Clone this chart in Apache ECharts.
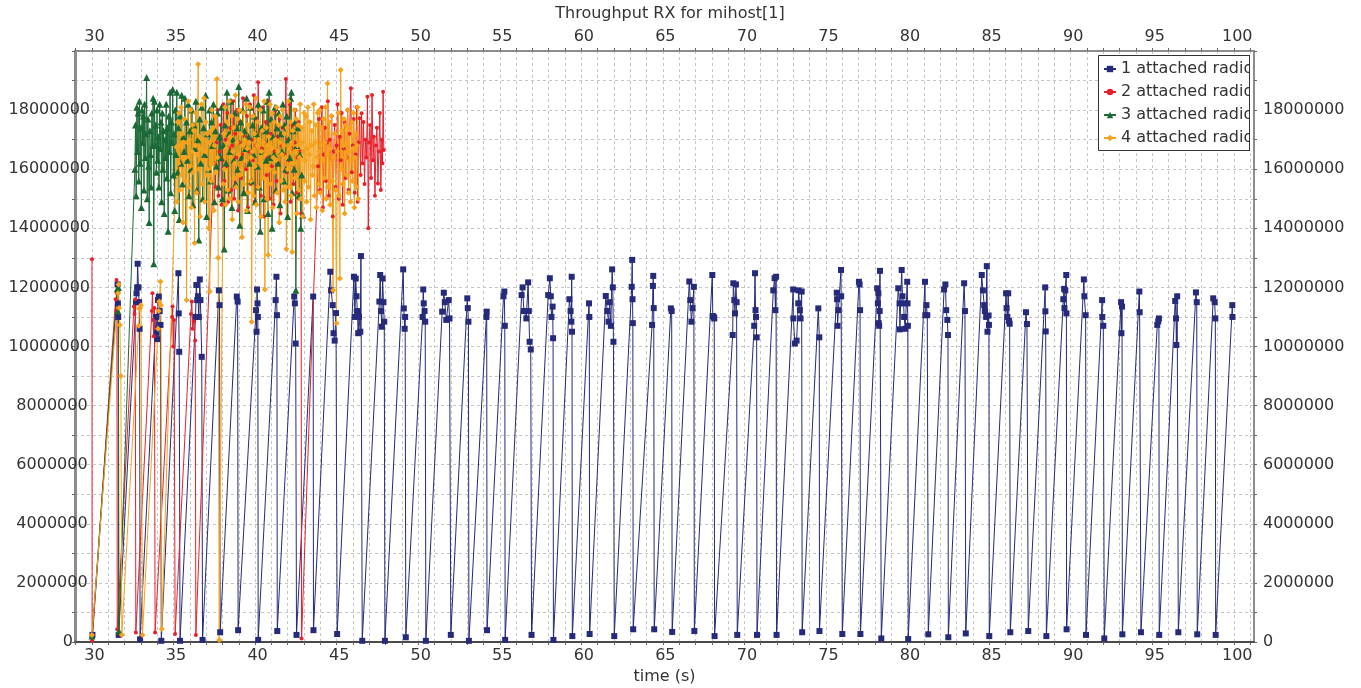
<!DOCTYPE html>
<html>
<head>
<meta charset="utf-8">
<script src="https://cdn.jsdelivr.net/npm/echarts@6/dist/echarts.min.js"></script>
<style>
html,body{margin:0;padding:0;background:#ffffff;}
#chart{width:1361px;height:688px;}
</style>
</head>
<body>
<div id="chart"></div>
<script>
// Throughput RX for mihost[1]: received throughput over time, one line per number of attached radios
const titleText = 'Throughput RX for mihost[1]';
const xName = 'time (s)';
const seriesNames = ['1 attached radio', '2 attached radio', '3 attached radio', '4 attached radio'];

const xLabelValues = [30, 35, 40, 45, 50, 55, 60, 65, 70, 75, 80, 85, 90, 95, 100];
const xTickValues = [29, 30, 31, 32, 33, 34, 35, 36, 37, 38, 39, 40, 41, 42, 43, 44, 45, 46, 47, 48, 49,
  50, 51, 52, 53, 54, 55, 56, 57, 58, 59, 60, 61, 62, 63, 64, 65, 66, 67, 68, 69, 70, 71, 72, 73, 74,
  75, 76, 77, 78, 79, 80, 81, 82, 83, 84, 85, 86, 87, 88, 89, 90, 91, 92, 93, 94, 95, 96, 97, 98, 99, 100, 101];
const yLabelValues = [0, 2000000, 4000000, 6000000, 8000000, 10000000, 12000000, 14000000, 16000000, 18000000];

// [time (s), throughput]
const radio1 = [
  [30.03,0.24e6],[31.57,12.1e6],[31.59,11.46e6],[31.61,11.0e6],[31.64,0.24e6],
  [32.70,11.5e6],[32.73,11.8e6],[32.77,12.0e6],[32.80,12.8e6],[32.85,12.0e6],[32.89,11.5e6],[32.92,10.6e6],[32.95,0.09e6],
  [33.93,11.0e6],[33.97,10.46e6],[34.00,10.25e6],[34.05,11.57e6],[34.10,11.69e6],[34.15,11.2e6],[34.20,10.73e6],[34.25,0.04e6],
  [35.30,12.48e6],[35.32,11.12e6],[35.35,9.82e6],[35.40,0.04e6],
  [36.35,11.0e6],[36.40,12.08e6],[36.45,11.57e6],[36.50,11.7e6],[36.55,11.0e6],[36.61,12.27e6],[36.65,11.57e6],[36.73,9.65e6],[36.78,0.07e6],
  [37.78,11.9e6],[37.82,11.4e6],[37.86,0.33e6],
  [38.88,11.69e6],[38.93,11.52e6],[38.96,0.4e6],
  [40.06,11.23e6],[40.09,10.5e6],[40.12,11.93e6],[40.15,11.46e6],[40.17,11.0e6],[40.19,0.07e6],
  [41.26,11.57e6],[41.31,12.36e6],[41.34,11.06e6],[41.36,0.37e6],
  [42.40,11.69e6],[42.44,11.46e6],[42.49,10.1e6],[42.54,0.24e6],
  [43.56,11.69e6],[43.58,0.4e6],
  [44.61,12.53e6],[44.66,11.9e6],[44.76,11.4e6],[44.81,10.45e6],[44.88,10.2e6],[44.96,11.13e6],[45.03,0.27e6],
  [46.06,12.36e6],[46.12,11.0e6],[46.17,12.3e6],[46.22,11.7e6],[46.27,11.2e6],[46.32,10.45e6],[46.37,11.0e6],[46.45,10.5e6],[46.49,13.06e6],[46.57,0.04e6],
  [47.62,11.52e6],[47.67,12.42e6],[47.72,11.2e6],[47.77,10.67e6],[47.82,12.3e6],[47.87,11.5e6],[47.92,10.84e6],[47.96,0.04e6],
  [49.08,12.61e6],[49.12,11.29e6],[49.17,10.6e6],[49.20,11.0e6],[49.24,0.16e6],
  [50.27,11.0e6],[50.31,11.93e6],[50.34,11.46e6],[50.39,11.2e6],[50.43,10.84e6],[50.47,0.04e6],
  [51.47,11.18e6],[51.57,11.82e6],[51.63,11.5e6],[51.72,10.9e6],[51.87,11.57e6],[51.92,10.95e6],[52.00,0.24e6],
  [53.01,11.63e6],[53.04,11.3e6],[53.08,10.84e6],[53.11,0.04e6],
  [54.18,11.0e6],[54.20,11.18e6],[54.22,0.4e6],
  [55.23,11.7e6],[55.28,11.86e6],[55.31,10.7e6],[55.33,0.07e6],
  [56.34,11.74e6],[56.40,12.0e6],[56.48,11.2e6],[56.63,10.95e6],[56.74,12.17e6],[56.78,11.2e6],[56.83,10.16e6],[56.90,9.9e6],[56.95,0.24e6],
  [57.97,11.74e6],[58.07,12.31e6],[58.13,11.7e6],[58.17,11.0e6],[58.24,11.35e6],[58.27,10.28e6],[58.29,0.07e6],
  [59.27,11.6e6],[59.34,11.2e6],[59.39,10.84e6],[59.41,12.36e6],[59.43,10.5e6],[59.45,0.2e6],
  [60.47,11.46e6],[60.49,11.0e6],[60.51,0.27e6],
  [61.50,11.71e6],[61.59,11.2e6],[61.67,10.84e6],[61.74,11.5e6],[61.81,10.7e6],[61.89,12.61e6],[61.93,12.0e6],[61.97,10.16e6],[62.02,0.2e6],
  [63.09,12.02e6],[63.12,12.93e6],[63.14,11.6e6],[63.16,10.79e6],[63.18,0.43e6],
  [64.34,10.73e6],[64.39,12.05e6],[64.41,12.39e6],[64.44,11.3e6],[64.47,0.43e6],
  [65.49,11.29e6],[65.54,11.2e6],[65.57,0.34e6],
  [66.62,12.2e6],[66.68,11.57e6],[66.75,10.84e6],[66.82,11.3e6],[66.90,12.02e6],[66.93,0.37e6],
  [68.03,12.42e6],[68.06,11.03e6],[68.12,11.0e6],[68.15,10.95e6],[68.17,0.2e6],
  [69.28,10.39e6],[69.32,12.14e6],[69.38,11.57e6],[69.42,11.12e6],[69.48,12.1e6],[69.52,11.5e6],[69.56,0.24e6],
  [70.60,10.7e6],[70.65,12.48e6],[70.68,11.23e6],[70.71,11.0e6],[70.75,10.31e6],[70.77,0.24e6],
  [71.77,11.9e6],[71.85,12.31e6],[71.90,11.23e6],[71.94,12.36e6],[71.97,0.24e6],
  [72.99,11.93e6],[73.00,10.95e6],[73.09,10.1e6],[73.20,10.2e6],[73.30,11.46e6],[73.32,11.9e6],[73.40,11.23e6],[73.44,10.95e6],[73.51,11.86e6],[73.54,0.33e6],
  [74.53,11.29e6],[74.59,10.31e6],[74.60,0.37e6],
  [75.66,11.82e6],[75.68,11.6e6],[75.71,10.7e6],[75.76,11.23e6],[75.92,12.59e6],[75.93,11.7e6],[76.00,0.27e6],
  [77.02,12.19e6],[77.06,12.1e6],[77.09,11.23e6],[77.11,0.27e6],
  [78.14,11.97e6],[78.18,11.46e6],[78.21,11.8e6],[78.23,10.79e6],[78.26,10.7e6],[78.29,11.2e6],[78.31,12.56e6],[78.39,0.12e6],
  [79.43,11.97e6],[79.51,11.46e6],[79.53,10.58e6],[79.64,12.59e6],[79.69,11.7e6],[79.76,11.46e6],[79.79,11.0e6],[79.86,10.6e6],[79.98,12.19e6],[80.00,11.46e6],[80.02,10.7e6],[80.04,0.1e6],
  [81.07,12.19e6],[81.09,11.06e6],[81.16,11.4e6],[81.21,11.06e6],[81.27,0.26e6],
  [82.24,11.93e6],[82.32,12.1e6],[82.37,11.23e6],[82.44,10.9e6],[82.48,10.39e6],[82.50,0.16e6],
  [83.47,12.14e6],[83.52,11.2e6],[83.57,0.29e6],
  [84.55,12.42e6],[84.62,11.9e6],[84.70,11.4e6],[84.74,11.2e6],[84.82,11.0e6],[84.86,12.72e6],[84.90,10.5e6],[84.97,11.05e6],[84.99,10.73e6],[85.01,0.2e6],
  [86.04,11.8e6],[86.07,11.3e6],[86.12,11.0e6],[86.17,11.8e6],[86.22,10.87e6],[86.26,10.77e6],[86.30,0.33e6],
  [87.26,11.16e6],[87.32,10.76e6],[87.40,0.37e6],
  [88.44,12.0e6],[88.45,11.19e6],[88.47,10.51e6],[88.51,0.2e6],
  [89.55,11.6e6],[89.60,11.95e6],[89.62,11.3e6],[89.67,11.9e6],[89.73,12.42e6],[89.74,11.12e6],[89.75,0.43e6],
  [90.81,12.27e6],[90.84,11.7e6],[90.92,11.06e6],[90.94,0.24e6],
  [91.93,11.57e6],[91.94,11.0e6],[92.00,10.7e6],[92.06,0.12e6],
  [93.09,11.5e6],[93.11,10.45e6],[93.15,11.35e6],[93.17,0.26e6],
  [94.21,11.86e6],[94.23,11.16e6],[94.31,0.33e6],
  [95.31,10.73e6],[95.37,10.85e6],[95.41,10.95e6],[95.43,0.24e6],
  [96.41,11.54e6],[96.46,10.95e6],[96.48,10.05e6],[96.53,11.7e6],[96.60,0.33e6],
  [97.68,11.83e6],[97.73,11.5e6],[97.76,0.26e6],
  [98.74,11.63e6],[98.83,11.5e6],[98.87,10.95e6],[98.89,0.24e6],
  [99.91,11.4e6],[99.92,11.0e6]
];

const radio2 = [
  [30.00,12.95e6],[30.01,0.05e6],[31.45,11.6e6],[31.48,11.2e6],[31.51,12.25e6],[31.53,11.8e6],[31.55,0.43e6],
  [32.57,11.35e6],[32.61,11.1e6],[32.65,11.6e6],[32.69,0.32e6],
  [33.67,11.2e6],[33.71,11.8e6],[33.75,10.9e6],[33.79,10.35e6],[33.83,11.3e6],[33.87,0.32e6],
  [34.91,11.0e6],[34.94,11.35e6],[34.98,10.0e6],[35.03,10.9e6],[35.10,0.27e6],
  [36.07,11.1e6],[36.12,11.52e6],[36.17,10.6e6],[36.25,10.85e6],[36.33,10.2e6],[36.37,0.24e6],
  [37.46,16.2e6],[37.52,17.8e6],[37.58,15.4e6],[37.64,16.9e6],[37.70,18.0e6],[37.76,15.1e6],[37.82,16.6e6],[37.88,17.5e6],
  [37.94,14.8e6],[38.00,16.3e6],[38.06,18.2e6],[38.12,15.6e6],[38.18,17.0e6],[38.24,16.1e6],[38.30,17.9e6],[38.36,14.9e6],
  [38.42,16.7e6],[38.48,17.4e6],[38.54,15.3e6],[38.60,16.8e6],[38.66,18.3e6],[38.72,15.0e6],[38.78,17.2e6],[38.84,16.4e6],
  [38.90,18.0e6],[38.96,14.6e6],[39.02,16.9e6],[39.08,17.6e6],[39.14,15.7e6],[39.20,16.5e6],[39.26,18.4e6],[39.32,15.2e6],
  [39.38,17.1e6],[39.44,16.0e6],[39.50,17.8e6],[39.56,14.7e6],[39.62,16.6e6],[39.68,18.2e6],[39.74,15.5e6],[39.80,17.0e6],
  [39.86,16.3e6],[39.92,18.5e6],[39.98,14.9e6],[40.04,16.8e6],[40.10,17.7e6],[40.16,15.4e6],[40.19,18.94e6],[40.24,16.2e6],
  [40.30,17.3e6],[40.36,15.1e6],[40.42,16.7e6],[40.48,18.1e6],[40.54,14.4e6],[40.60,16.9e6],[40.66,17.6e6],[40.72,15.8e6],
  [40.78,16.4e6],[40.84,18.3e6],[40.90,15.0e6],[40.96,17.2e6],[41.02,16.1e6],[41.08,17.9e6],[41.14,14.8e6],[41.20,16.6e6],
  [41.26,18.0e6],[41.32,15.6e6],[41.38,17.1e6],[41.44,16.2e6],[41.50,17.7e6],[41.56,14.5e6],[41.62,16.8e6],[41.68,17.4e6],
  [41.74,15.3e6],[41.80,16.5e6],[41.89,19.05e6],[41.94,15.9e6],[42.00,17.0e6],[42.06,16.3e6],[42.12,18.2e6],[42.18,14.9e6],
  [42.24,16.7e6],[42.30,17.5e6],[42.36,15.5e6],[42.42,16.9e6],[42.48,18.0e6],[42.54,15.2e6],[42.60,16.4e6],[42.66,17.6e6],
  [42.72,15.0e6],[42.78,16.6e6],[42.82,14.5e6],[42.85,0.12e6],
  [43.86,16.1e6],[43.92,17.7e6],[43.98,15.3e6],[44.04,16.8e6],[44.10,18.1e6],[44.16,14.7e6],[44.22,16.5e6],[44.28,17.4e6],
  [44.34,15.6e6],[44.40,16.9e6],[44.46,18.3e6],[44.52,15.1e6],[44.58,17.0e6],[44.64,16.2e6],[44.70,17.8e6],[44.76,14.4e6],
  [44.82,16.6e6],[44.88,17.5e6],[44.94,15.4e6],[45.00,16.8e6],[45.06,18.2e6],[45.12,15.0e6],[45.19,17.1e6],[45.25,16.3e6],
  [45.31,17.9e6],[45.37,14.8e6],[45.43,16.7e6],[45.49,17.6e6],[45.55,15.7e6],[45.61,16.4e6],[45.67,18.0e6],[45.73,15.3e6],
  [45.79,17.2e6],[45.87,18.74e6],[45.93,15.9e6],[45.99,16.8e6],[46.05,17.7e6],[46.11,15.2e6],[46.17,16.5e6],[46.23,18.1e6],
  [46.29,14.9e6],[46.35,16.9e6],[46.41,17.72e6],[46.47,15.8e6],[46.53,17.89e6],[46.59,16.2e6],[46.65,17.6e6],[46.71,15.5e6],
  [46.77,17.0e6],[46.83,16.4e6],[46.89,18.45e6],[46.94,14.0e6],[46.99,16.9e6],[47.05,17.5e6],[47.11,15.7e6],[47.17,18.51e6],
  [47.23,16.3e6],[47.29,17.1e6],[47.35,15.1e6],[47.41,16.8e6],[47.47,17.4e6],[47.53,15.52e6],[47.59,16.6e6],[47.65,17.9e6],
  [47.71,15.3e6],[47.77,17.0e6],[47.81,16.2e6],[47.85,18.62e6],[47.89,16.65e6]
];

const radio3 = [
  [30.00,0.2e6],[31.55,11.95e6],[31.59,11.2e6],[31.62,12.0e6],[31.65,0.37e6],
  [32.63,16.0e6],[32.67,17.5e6],[32.71,15.1e6],[32.75,18.1e6],[32.79,16.6e6],[32.83,17.9e6],[32.87,15.6e6],[32.91,18.3e6],
  [32.95,16.2e6],[32.99,17.4e6],[33.03,14.7e6],[33.07,18.0e6],[33.11,16.9e6],[33.15,17.8e6],[33.19,15.3e6],[33.23,18.2e6],
  [33.27,16.4e6],[33.31,17.2e6],[33.35,19.1e6],[33.39,15.0e6],[33.43,17.7e6],[33.47,16.1e6],[33.51,14.2e6],[33.55,17.3e6],
  [33.59,16.5e6],[33.63,15.4e6],[33.67,17.9e6],[33.71,16.8e6],[33.75,18.4e6],[33.79,12.8e6],[33.83,18.3e6],[33.87,16.8e6],
  [33.91,17.5e6],[33.95,15.9e6],[33.99,18.0e6],[34.03,16.3e6],[34.07,17.1e6],[34.11,15.4e6],[34.15,18.2e6],[34.19,16.7e6],
  [34.23,17.6e6],[34.27,14.9e6],[34.31,17.9e6],[34.35,16.0e6],[34.39,17.3e6],[34.43,14.5e6],[34.47,17.0e6],[34.51,16.4e6],
  [34.55,18.2e6],[34.59,15.7e6],[34.63,17.4e6],[34.67,13.9e6],[34.71,17.8e6],[34.75,16.6e6],[34.79,18.6e6],[34.83,15.2e6],
  [34.87,17.6e6],[34.91,16.9e6],[34.95,18.7e6],[34.99,15.8e6],[35.03,17.2e6],[35.07,14.6e6],[35.11,18.0e6],[35.15,16.5e6],
  [35.20,18.6e6],[35.25,15.9e6],[35.30,17.4e6],[35.35,14.3e6],[35.40,17.8e6],[35.45,16.2e6],[35.50,18.5e6],[35.55,15.5e6],
  [35.60,17.1e6],[35.65,16.6e6],[35.70,18.4e6],[35.75,14.0e6],[35.80,17.6e6],[35.85,16.3e6],[35.90,18.2e6],[35.95,15.1e6],
  [36.01,17.3e6],[36.07,16.0e6],[36.13,18.0e6],[36.19,14.8e6],[36.25,17.5e6],[36.31,16.7e6],[36.37,18.3e6],[36.43,15.3e6],
  [36.49,17.0e6],[36.55,13.6e6],[36.61,17.7e6],[36.67,16.2e6],[36.73,18.1e6],[36.79,15.0e6],[36.85,17.4e6],[36.91,16.5e6],
  [36.97,18.5e6],[37.03,14.4e6],[37.09,17.2e6],[37.15,16.0e6],[37.21,18.0e6],[37.27,15.6e6],[37.33,17.6e6],[37.39,16.8e6],
  [37.45,18.2e6],[37.51,14.9e6],[37.57,17.3e6],[37.63,16.1e6],[37.70,17.9e6],[37.76,15.4e6],[37.82,17.1e6],[37.88,16.4e6],
  [37.94,18.1e6],[38.00,15.0e6],[38.06,16.8e6],[38.11,13.3e6],[38.16,17.5e6],[38.22,16.2e6],[38.28,18.6e6],[38.34,15.3e6],
  [38.40,17.2e6],[38.46,16.6e6],[38.52,18.3e6],[38.58,14.7e6],[38.64,17.0e6],[38.70,16.3e6],[38.76,17.9e6],[38.82,15.5e6],
  [38.88,17.4e6],[38.94,16.0e6],[39.00,18.8e6],[39.06,14.1e6],[39.12,17.6e6],[39.18,16.4e6],[39.24,18.0e6],[39.30,15.2e6],
  [39.36,17.3e6],[39.42,16.7e6],[39.48,18.4e6],[39.54,14.6e6],[39.60,17.1e6],[39.66,16.2e6],[39.72,18.1e6],[39.78,15.6e6],
  [39.84,17.5e6],[39.90,16.5e6],[39.96,17.8e6],[40.02,14.9e6],[40.08,17.2e6],[40.14,16.1e6],[40.20,18.2e6],[40.26,15.4e6],
  [40.32,13.9e6],[40.38,17.4e6],[40.44,16.6e6],[40.50,18.0e6],[40.56,15.0e6],[40.62,17.3e6],[40.68,16.3e6],[40.74,18.3e6],
  [40.80,14.5e6],[40.86,18.6e6],[40.92,16.4e6],[40.98,17.7e6],[41.04,14.0e6],[41.10,17.1e6],[41.16,16.5e6],[41.22,18.1e6],
  [41.28,15.3e6],[41.34,17.4e6],[41.40,16.2e6],[41.46,17.9e6],[41.52,14.8e6],[41.58,17.2e6],[41.64,16.6e6],[41.70,18.2e6],
  [41.76,15.6e6],[41.82,17.5e6],[41.88,16.0e6],[41.94,17.8e6],[42.00,14.4e6],[42.06,17.0e6],[42.12,16.4e6],[42.18,18.4e6],
  [42.23,18.6e6],[42.28,15.2e6],[42.34,17.3e6],[42.40,16.0e6],[42.46,17.6e6],[42.50,11.9e6],[42.56,16.8e6],[42.62,17.4e6],
  [42.68,15.1e6],[42.74,16.5e6],[42.80,14.0e6],[42.86,15.8e6],[42.92,14.45e6]
];

const radio4 = [
  [30.00,0.24e6],[31.60,11.8e6],[31.63,12.1e6],[31.67,11.3e6],[31.71,10.73e6],[31.77,9.0e6],[31.83,0.24e6],
  [32.87,10.7e6],[32.90,11.29e6],[32.95,11.3e6],[33.00,11.4e6],[33.10,0.24e6],
  [34.05,10.6e6],[34.10,11.2e6],[34.12,11.52e6],[34.20,12.2e6],[34.23,11.4e6],[34.28,0.44e6],
  [35.18,16.75e6],[35.22,14.9e6],[35.26,17.6e6],[35.30,16.2e6],[35.34,17.9e6],[35.38,15.3e6],[35.42,16.8e6],[35.46,18.1e6],
  [35.50,15.8e6],[35.54,17.2e6],[35.58,14.2e6],[35.62,16.9e6],[35.66,17.7e6],[35.70,15.6e6],[35.75,16.4e6],[35.80,11.57e6],
  [35.85,16.9e6],[35.89,18.3e6],[35.93,15.4e6],[35.97,17.0e6],[36.01,16.1e6],[36.05,18.0e6],[36.09,14.7e6],[36.13,16.6e6],
  [36.17,17.5e6],[36.21,15.9e6],[36.25,17.3e6],[36.29,13.5e6],[36.33,16.8e6],[36.37,17.9e6],[36.41,15.2e6],[36.45,16.5e6],
  [36.51,19.55e6],[36.55,16.0e6],[36.59,17.1e6],[36.63,14.4e6],[36.67,16.7e6],[36.71,18.2e6],[36.75,15.5e6],[36.79,17.0e6],
  [36.83,16.3e6],[36.87,18.4e6],[36.91,14.9e6],[36.95,16.6e6],[36.99,17.6e6],[37.03,15.8e6],[37.07,17.2e6],[37.11,16.0e6],
  [37.15,14.0e6],[37.19,16.9e6],[37.22,11.86e6],[37.27,17.3e6],[37.31,15.6e6],[37.35,18.0e6],[37.39,16.2e6],[37.43,17.4e6],
  [37.47,14.6e6],[37.51,16.8e6],[37.55,17.8e6],[37.59,15.9e6],[37.66,19.05e6],[37.70,16.4e6],[37.74,13.0e6],[37.80,0.07e6],
  [38.04,15.5e6],[38.08,17.2e6],[38.12,16.0e6],[38.16,18.1e6],[38.20,14.8e6],[38.24,16.7e6],[38.28,17.6e6],[38.32,15.3e6],
  [38.36,16.9e6],[38.40,18.3e6],[38.44,15.0e6],[38.48,17.1e6],[38.52,16.4e6],[38.56,17.8e6],[38.60,14.3e6],[38.64,16.6e6],
  [38.68,17.4e6],[38.72,15.7e6],[38.76,16.2e6],[38.80,18.5e6],[38.84,15.4e6],[38.88,16.9e6],[38.92,17.7e6],[38.96,14.9e6],
  [39.00,16.5e6],[39.04,18.0e6],[39.08,15.8e6],[39.12,17.2e6],[39.16,16.0e6],[39.20,13.7e6],[39.24,16.8e6],[39.28,17.9e6],
  [39.32,15.5e6],[39.36,17.0e6],[39.40,16.3e6],[39.44,18.2e6],[39.48,14.6e6],[39.52,16.7e6],[39.56,17.5e6],[39.60,15.2e6],
  [39.64,16.9e6],[39.68,18.1e6],[39.72,15.6e6],[39.76,16.4e6],[39.79,10.84e6],[39.84,16.6e6],[39.88,17.8e6],[39.92,15.1e6],
  [39.96,17.2e6],[40.00,16.1e6],[40.04,18.4e6],[40.08,14.8e6],[40.12,16.8e6],[40.16,17.6e6],[40.20,15.4e6],[40.24,17.0e6],
  [40.28,16.2e6],[40.32,18.0e6],[40.36,14.4e6],[40.40,16.6e6],[40.44,17.3e6],[40.48,15.7e6],[40.52,16.9e6],[40.56,18.3e6],
  [40.60,11.93e6],[40.64,16.5e6],[40.68,17.4e6],[40.72,15.0e6],[40.76,16.8e6],[40.80,13.1e6],[40.84,17.1e6],[40.88,16.0e6],
  [40.92,18.2e6],[40.96,15.5e6],[41.00,16.7e6],[41.04,17.9e6],[41.08,14.7e6],[41.12,16.4e6],[41.16,17.6e6],[41.20,15.9e6],
  [41.24,17.0e6],[41.28,16.3e6],[41.32,18.1e6],[41.36,15.2e6],[41.40,16.6e6],[41.44,17.5e6],[41.48,14.2e6],[41.52,16.9e6],
  [41.56,17.8e6],[41.60,15.6e6],[41.64,16.5e6],[41.68,18.0e6],[41.72,15.3e6],[41.76,16.8e6],[41.80,17.2e6],[41.84,14.9e6],
  [41.88,16.4e6],[41.92,13.3e6],[41.96,17.4e6],[42.00,16.0e6],[42.04,18.3e6],[42.08,15.4e6],[42.12,16.7e6],[42.16,17.6e6],
  [42.20,15.1e6],[42.24,16.9e6],[42.28,13.2e6],[42.32,17.3e6],[42.36,16.2e6],[42.40,18.0e6],[42.44,15.7e6],[42.48,16.6e6],
  [42.52,17.7e6],[42.56,14.5e6],[42.60,16.8e6],[42.64,17.5e6],[42.68,15.3e6],[42.72,16.4e6],[42.76,18.2e6],[42.80,15.0e6],
  [42.84,16.9e6],[42.88,17.4e6],[42.92,14.4e6],[42.96,16.6e6],[43.00,17.9e6],[43.04,15.6e6],[43.08,16.3e6],[43.12,17.8e6],
  [43.16,14.9e6],[43.20,16.7e6],[43.24,18.1e6],[43.28,15.4e6],[43.32,16.5e6],[43.36,17.6e6],[43.40,14.3e6],[43.44,16.8e6],
  [43.48,17.3e6],[43.52,15.8e6],[43.56,16.1e6],[43.60,18.2e6],[43.64,15.1e6],[43.68,16.9e6],[43.72,17.5e6],[43.76,14.7e6],
  [43.80,16.4e6],[43.84,17.9e6],[43.88,15.5e6],[43.92,16.6e6],[43.96,18.0e6],[44.00,15.2e6],[44.04,16.8e6],[44.08,17.4e6],
  [44.12,14.6e6],[44.16,16.3e6],[44.20,17.7e6],[44.24,15.7e6],[44.28,16.9e6],[44.32,18.1e6],[44.36,15.0e6],[44.40,16.5e6],
  [44.44,18.9e6],[44.48,15.4e6],[44.52,16.7e6],[44.56,17.6e6],[44.60,14.8e6],[44.64,16.2e6],[44.68,17.8e6],[44.72,15.6e6],
  [44.78,11.9e6],[44.82,16.4e6],[44.88,17.2e6],[44.94,15.3e6],[44.99,10.79e6],[45.04,16.6e6],[45.10,17.9e6],[45.14,15.1e6],
  [45.20,12.3e6],[45.25,19.36e6],[45.29,16.0e6],[45.33,17.3e6],[45.37,15.5e6],[45.41,16.8e6],[45.45,17.7e6],[45.49,14.5e6],
  [45.53,16.4e6],[45.57,17.5e6],[45.61,15.8e6],[45.65,16.9e6],[45.69,18.0e6],[45.73,15.2e6],[45.77,16.6e6],[45.81,17.4e6],
  [45.85,14.9e6],[45.89,16.3e6],[45.93,17.6e6],[45.97,15.6e6],[46.01,16.7e6],[46.05,17.9e6],[46.09,14.7e6],[46.13,16.4e6],
  [46.17,17.2e6],[46.21,15.4e6],[46.25,16.8e6],[46.29,18.1e6],[46.33,15.0e6]
];

const seriesData = [radio1, radio2, radio3, radio4];
const seriesColors = ['#262a7a', '#e8202b', '#1b6a35', '#f6a21c'];
const seriesSymbols = ['rect', 'circle', 'triangle', 'diamond'];
const seriesSymbolSizes = [6, 4, 7, 6];

const FONT = 'DejaVu Sans';
const TEXT = '#333333';
const gridDash = { show: true, lineStyle: { color: '#c6c6c6', width: 1, type: [3, 3] } };
const labelText = { fontFamily: FONT, fontSize: 16, color: TEXT };

function timeAxis(position) {
  const bottom = position === 'bottom';
  return {
    type: 'value',
    position: position,
    min: 28.96,
    max: 101.24,
    name: bottom ? xName : '',
    nameLocation: 'middle',
    nameGap: 27,
    nameTextStyle: labelText,
    axisLine: { show: true, onZero: false, lineStyle: { color: bottom ? '#4a4a4a' : '#8c8c8c', width: 2 } },
    axisTick: { show: true, customValues: xTickValues, length: 3, lineStyle: { color: '#666666' } },
    axisLabel: {
      customValues: xLabelValues, fontFamily: FONT, fontSize: 16, color: TEXT, margin: 6,
      // labels sit slightly right of their ticks
      formatter: function (v) { return (v >= 100 ? '{w3|' : '{w2|') + v + '}'; },
      rich: {
        w2: Object.assign({ padding: [0, 0, 0, 5] }, labelText),
        w3: Object.assign({ padding: [0, 0, 0, 7] }, labelText)
      }
    },
    splitLine: bottom ? gridDash : { show: false },
  };
}

function valueAxis(position) {
  const left = position === 'left';
  return {
    type: 'value',
    position: position,
    min: 0,
    max: 20000000,
    interval: 1000000,
    axisLine: { show: true, onZero: false, lineStyle: { color: '#8c8c8c', width: left ? 3 : 2 } },
    axisTick: { show: true, length: 3, lineStyle: { color: '#666666' } },
    axisLabel: left ? {
      fontFamily: FONT, fontSize: 16, color: TEXT, margin: -15, align: 'right',
      formatter: function (v) {
        if (yLabelValues.indexOf(v) < 0) return '';
        const s = String(v);
        return '{d' + s.length + '|' + s + '}';
      },
      rich: {
        d1: Object.assign({ padding: [0, 17, 0, 0] }, labelText),
        d7: Object.assign({ padding: [0, 2.4, 0, 0] }, labelText),
        d8: Object.assign({}, labelText)
      }
    } : {
      fontFamily: FONT, fontSize: 16, color: TEXT, margin: 9,
      formatter: function (v) { return yLabelValues.indexOf(v) >= 0 ? String(v) : ''; }
    },
    splitLine: left ? gridDash : { show: false },
  };
}

const chart = echarts.init(document.getElementById('chart'), null, { renderer: 'canvas' });

chart.setOption({
  animation: false,
  backgroundColor: '#ffffff',
  title: {
    text: titleText,
    left: 670,
    top: 6,
    padding: 0,
    textAlign: 'center',
    textStyle: { fontFamily: FONT, fontSize: 16, fontWeight: 'normal', color: TEXT }
  },
  grid: { left: 75, right: 107, top: 51, bottom: 46, containLabel: false, outerBoundsMode: 'none' },
  xAxis: [timeAxis('bottom'), timeAxis('top')],
  yAxis: [valueAxis('left'), valueAxis('right')],
  legend: {
    orient: 'vertical',
    left: 1103,
    top: 61,
    padding: 0,
    itemGap: 7,
    itemWidth: 12,
    itemHeight: 8,
    selectedMode: false,
    z: 4,
    data: seriesNames,
    textStyle: labelText
  },
  graphic: [
    { type: 'rect', z: 3, silent: true, shape: { x: 1098.5, y: 55.5, width: 151, height: 95 },
      style: { fill: '#ffffff', stroke: '#333333', lineWidth: 1 } },
    { type: 'rect', z: 10, silent: true, shape: { x: 1250, y: 56, width: 2.8, height: 94 },
      style: { fill: '#ffffff' } },
    { type: 'line', z: 10, silent: true, shape: { x1: 1249.5, y1: 55, x2: 1249.5, y2: 151 },
      style: { stroke: '#333333', lineWidth: 1 } }
  ],
  series: seriesData.map(function (data, i) {
    return {
      name: seriesNames[i],
      type: 'line',
      xAxisIndex: 0,
      yAxisIndex: 0,
      data: data,
      symbol: seriesSymbols[i],
      symbolSize: seriesSymbolSizes[i],
      showSymbol: true,
      clip: true,
      z: 2,
      itemStyle: { color: seriesColors[i] },
      lineStyle: { color: seriesColors[i], width: 1 },
      emphasis: { disabled: true }
    };
  })
});
</script>
</body>
</html>
